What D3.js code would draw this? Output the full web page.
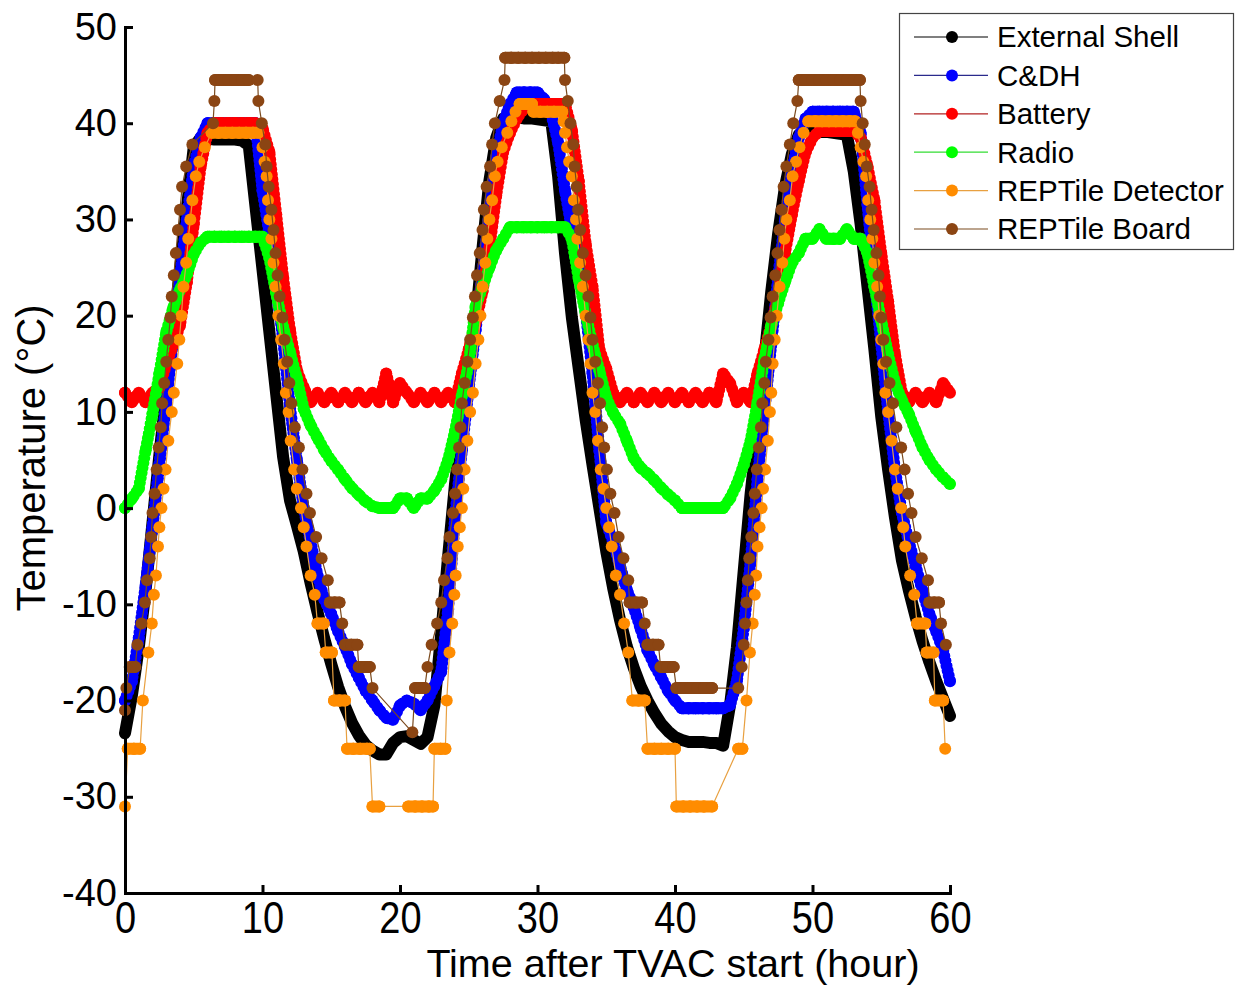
<!DOCTYPE html>
<html>
<head>
<meta charset="utf-8">
<script src="https://cdn.jsdelivr.net/npm/d3@7"></script>
<style>
  body { margin: 0; background: #fff; }
  svg { display: block; font-family: Arial, "Liberation Sans", sans-serif; }
</style>
</head>
<body>
<svg id="chart" width="1239" height="986"></svg>
<script>
// half-hourly grid for the finely logged channels
const hours = d3.range(0, 60.001, 0.5);

const shellTemp = [
  -23.4, -19.5, -14.5, -8.5, -1.5, 5.5, 12, 18.5, 24.8, 31.2,
  37.5, 38.5, 38.4, 38.3, 38.3, 38.3, 38.3, 38.2, 37.7, 31.2,
  24.8, 18.3, 11.8, 5.3, 0.8, -1.8, -4.5, -7.8, -10.8, -13.6,
  -16.2, -18.6, -20.6, -22.3, -23.6, -24.6, -25.2, -25.6, -25.6, -24.4,
  -23.8, -23.7, -24.1, -24.5, -23.8, -20.5, -13, -5, 2.5, 8.5,
  13.5, 19.5, 27, 34, 38.5, 40.5, 40.7, 40.6, 40.5, 40.5,
  40.4, 40.3, 40.2, 34.5, 26.5, 19.8, 14.5, 9.2, 4.5, 0,
  -4.5, -8.3, -11.6, -14.4, -16.6, -18.5, -20, -21.3, -22.4, -23.2,
  -23.8, -24.1, -24.3, -24.3, -24.3, -24.4, -24.4, -24.7, -20.5, -14.5,
  -6.5, 1.5, 8, 15.5, 22.5, 28.5, 33.4, 36.8, 38.8, 39.3,
  39.2, 39.1, 39.1, 39, 38.9, 38.8, 35, 29.5, 23, 16.5,
  9.5, 4, -1, -5.4, -8.5, -11.3, -13.8, -16, -18, -19.8,
  -21.6
];

const cdhTemp = [
  -20, -18, -13.5, -8, -2, 4.5, 11, 17.5, 24, 30,
  35.5, 38.5, 40, 40, 40, 40, 40, 40, 40, 40,
  33, 28.5, 23, 17.5, 10.5, 5, 0, -3.5, -7, -9.5,
  -11, -12.8, -14.4, -16.2, -17.6, -19, -20, -21, -21.8, -22,
  -20.5, -20, -20.3, -21, -20, -18.5, -17, -10.5, -1, 6,
  12.5, 18.5, 24.5, 31, 36.5, 40, 42, 43.2, 43.2, 43.2,
  43.2, 42.5, 41, 38, 33, 29, 25, 20.5, 14, 6,
  -1.5, -3.5, -6, -8.5, -10.3, -12.5, -14.8, -16.3, -17.6, -19,
  -20, -20.8, -20.8, -20.8, -20.8, -20.8, -20.8, -20.8, -20.5, -18,
  -12.5, -5.5, 3, 10, 17, 24, 30, 35, 38.5, 40.5,
  41.2, 41.2, 41.2, 41.2, 41.2, 41.2, 41.2, 39, 31.5, 24,
  17, 10, 4, -0.5, -3.5, -6, -8.6, -11, -12.8, -14.8,
  -18
];

const batteryTemp = [
  12, 11, 12, 11, 12, 12.5, 15, 17, 19, 23.5,
  29.5, 35.5, 39, 40, 40, 40, 40, 40, 40, 40,
  39.5, 37, 30.5, 24, 18.5, 14.3, 12.5, 11, 12, 11,
  12, 11, 12, 11, 12, 11, 12, 11, 14, 11,
  13, 12, 11, 12, 11, 12, 11, 12, 11, 14,
  16.5, 19.3, 22.5, 27, 32.5, 37, 39, 40.5, 41.5, 42,
  42, 42, 42, 42, 42, 39.3, 34, 27.5, 23, 16.5,
  14.5, 12, 11, 12, 11, 12, 11, 12, 11, 12,
  11, 12, 11, 12, 11, 12, 11, 14, 13, 11,
  12, 11, 14, 16.5, 19, 22, 26.5, 30.5, 34, 37,
  38.5, 39.2, 39.2, 39.2, 39.2, 39.2, 39.2, 38.5, 35.5, 32,
  26.5, 21.5, 16, 12, 11, 12, 11, 12, 11, 13,
  12
];

const radioTemp = [
  0, 1, 2, 6, 9.8, 14, 18.3, 20.8, 22.7, 24.3,
  26.4, 27.6, 28.2, 28.2, 28.2, 28.2, 28.2, 28.2, 28.2, 28.2,
  28.2, 26, 22.3, 18.8, 16.2, 13.5, 10.3, 8.6, 7.3, 6,
  4.9, 4, 3, 2.1, 1.4, 0.7, 0.2, 0, 0, 0,
  1, 1, 0, 1, 1, 1.8, 3, 5, 8, 11.7,
  15, 21, 23, 25, 26.8, 28, 29.2, 29.2, 29.2, 29.2,
  29.2, 29.2, 29.2, 29.2, 29.2, 28, 23.8, 20.2, 17, 14.3,
  11.5, 9.9, 8.8, 7, 5.2, 4.2, 3.6, 2.9, 2.1, 1.4,
  0.8, 0, 0, 0, 0, 0, 0, 0, 1, 2.5,
  4.5, 7, 11, 15.5, 19, 21.3, 23.5, 25.5, 26.5, 28,
  28, 29, 28, 28, 28, 29, 28, 28, 26.5, 23,
  19.5, 16, 13, 11.2, 9.8, 8, 6.3, 5, 4, 3.2,
  2.5
];

// the REPTile sensors are coarsely quantised, so they keep their own sample times
const detectorHours = [
  0, 0.2, 0.65, 1.1, 1.3, 1.7, 1.95, 2.1, 2.25, 2.4, 2.5, 2.65, 2.8, 2.95, 3.15, 3.4, 3.55, 3.8, 3.95, 4.1,
  4.25, 4.45, 4.6, 4.75, 4.9, 5.15, 5.4, 5.8, 6.3, 6.8, 7.3, 7.8, 8.3, 8.8, 9.3, 9.7,
  10.0, 10.15, 10.3, 10.4, 10.5, 10.65, 10.8, 10.95, 11.15, 11.35, 11.55, 11.7, 11.9, 12.05, 12.3, 12.5, 12.8,
  13.0, 13.2, 13.5, 13.8, 14.0, 14.45, 14.6, 15.05, 15.2, 15.6, 16.0, 16.15, 16.6, 17.1, 17.6, 17.8, 18.0, 18.5,
  20.6, 21.1, 21.6, 22.1, 22.4, 22.5, 22.95, 23.3, 23.4, 23.6, 23.8, 23.95, 24.05, 24.2, 24.35, 24.5, 24.6, 24.7,
  24.9, 25.1, 25.3, 25.5, 25.7, 25.85, 26.0, 26.2, 26.35, 26.5, 26.7, 26.9, 27.1, 27.4, 27.8, 28.1, 28.4, 28.7,
  29.15, 29.6, 29.7, 30.2, 30.7, 31.2, 31.8, 31.9, 32.0, 32.15, 32.3, 32.5, 32.65, 32.8, 32.9, 33.1, 33.3, 33.5,
  33.7, 33.85, 34.0, 34.2, 34.4, 34.6, 34.8, 35.0, 35.2, 35.4, 35.7, 36.0, 36.3, 36.6, 36.9, 37.35, 37.8,
  38.0, 38.5, 39.0, 39.5, 40.0, 40.1, 40.6, 41.1, 41.6, 42.1, 42.7,
  44.6, 44.9, 45.2, 45.45, 45.65, 45.8, 45.9, 46.0, 46.15, 46.3, 46.4, 46.55, 46.75, 46.9, 47.0, 47.1, 47.25,
  47.4, 47.6, 47.8, 47.95, 48.1, 48.35, 48.55, 48.8, 49.05, 49.35, 49.7, 50.2, 50.7, 51.2, 51.7, 52.2, 52.7, 53.1,
  53.3, 53.5, 53.7, 53.9, 54.05, 54.2, 54.35, 54.5, 54.7, 54.85, 55.0, 55.15, 55.3, 55.5, 55.75, 56.0, 56.2,
  56.45, 56.6, 56.75, 57.1, 57.4, 57.6, 58.2, 58.3, 58.8, 58.9, 59.5, 59.65
];
const detectorTemp = [
  -31, -25, -25, -25, -20, -15, -12, -9, -7, -4, -2, 0, 2, 4, 7, 10, 12, 15, 17.5, 20,
  23, 25.5, 28, 30, 32, 34.5, 36, 37.5, 39, 39, 39, 39, 39, 39, 39, 39,
  37.5, 36, 34.5, 32, 30, 28, 25.5, 23, 20, 17.5, 15, 12, 10, 7, 4, 2, 0,
  -2, -4, -7, -9, -12, -12, -15, -15, -20, -20, -20, -25, -25, -25, -25, -25, -31, -31,
  -31, -31, -31, -31, -31, -25, -25, -25, -20, -15, -12, -9, -7, -4, -2, 0, 2, 4,
  7, 10, 12, 15, 17.5, 20, 23, 25.5, 28, 30, 32, 34.5, 36, 37.5, 39, 40.2, 41.2, 42,
  42, 42, 41.2, 41.2, 41.2, 41.2, 41.2, 40.2, 39, 37.5, 36, 34.5, 32, 30, 28, 25.5, 23, 20,
  17.5, 15, 12, 10, 7, 4, 2, 0, -2, -4, -7, -9, -12, -15, -20, -20, -20,
  -25, -25, -25, -25, -25, -31, -31, -31, -31, -31, -31,
  -25, -25, -20, -15, -12, -9, -7, -4, -2, 0, 2, 4, 7, 10, 12, 15, 17.5,
  20, 23, 25.5, 28, 30, 32, 34.5, 36, 37.5, 39, 40.2, 40.2, 40.2, 40.2, 40.2, 40.2, 40.2, 40.2,
  39, 37.5, 36, 34.5, 32, 30, 28, 25.5, 23, 20, 17.5, 15, 12, 10, 7, 4, 2,
  0, -2, -4, -7, -9, -12, -12, -15, -15, -20, -20, -25
];

const boardHours = [
  0, 0.1, 0.35, 0.75, 0.9, 1.2, 1.45, 1.6, 1.8, 1.9, 2.0, 2.15, 2.3, 2.45, 2.6, 2.7, 2.85, 3.0, 3.15, 3.3,
  3.4, 3.55, 3.7, 3.85, 4.0, 4.15, 4.45, 4.9, 6.4, 6.5, 6.55, 7.0, 7.5, 8.0, 8.5, 9.0, 9.65, 9.7, 9.95,
  10.2, 10.3, 10.45, 10.65, 10.8, 10.95, 11.1, 11.25, 11.45, 11.6, 11.8, 11.95, 12.1, 12.35, 12.65, 12.9,
  13.2, 13.45, 13.9, 14.3, 14.75, 14.9, 15.25, 15.6, 15.8, 16.0, 16.45, 16.9, 17.0, 17.4, 17.8, 18.0,
  20.9, 21.1, 21.45, 21.8, 22.0, 22.3, 22.7, 23.0, 23.2, 23.45, 23.6, 23.85, 24.0, 24.15, 24.3, 24.4, 24.5,
  24.7, 24.9, 25.1, 25.3, 25.45, 25.6, 25.8, 26.0, 26.1, 26.3, 26.55, 26.7, 26.9, 27.25, 27.6, 27.65,
  28.1, 28.6, 29.1, 29.6, 30.1, 30.6, 31.1, 31.5, 31.95, 32.0, 32.2, 32.4, 32.6, 32.7, 32.85, 32.95,
  33.1, 33.3, 33.5, 33.7, 33.85, 34.0, 34.2, 34.4, 34.55, 34.7, 34.85, 35.05, 35.3, 35.6, 35.9, 36.25,
  36.6, 36.7, 37.15, 37.6, 37.8, 38.0, 38.4, 38.8, 38.95, 39.45, 39.9, 40.1, 40.6, 41.1, 41.6, 42.1, 42.7,
  44.6, 44.85, 45.0, 45.1, 45.2, 45.3, 45.4, 45.55, 45.7, 45.8, 45.95, 46.1, 46.25, 46.35, 46.5, 46.6,
  46.8, 46.95, 47.1, 47.3, 47.45, 47.6, 47.75, 47.9, 48.1, 48.35, 48.6, 48.9, 49.0, 49.5, 50.0, 50.5,
  51.0, 51.5, 52.0, 52.5, 53.0, 53.45, 53.5, 53.65, 53.8, 53.95, 54.15, 54.3, 54.45, 54.65, 54.8, 54.9,
  55.0, 55.15, 55.35, 55.6, 55.85, 56.1, 56.45, 56.7, 56.95, 57.2, 57.5, 57.95, 58.4, 58.5, 58.85, 59.2,
  59.35, 59.7
];
const boardTemp = [
  -21, -18.7, -16.5, -16.5, -14.2, -12, -9.8, -7.5, -5.2, -3, -0.5, 1.5, 4, 6.3, 8.4, 10.9, 13, 15.2, 17.5, 19.8,
  22, 24.2, 26.5, 28.9, 31, 33.4, 35.5, 37.8, 40, 42.3, 44.5, 44.5, 44.5, 44.5, 44.5, 44.5, 44.5, 42.3, 40,
  37.8, 35.5, 33.4, 31, 28.9, 26.5, 24.2, 22, 19.8, 17.5, 15.2, 13, 10.9, 8.4, 6.3, 4,
  1.5, -0.5, -3, -5.2, -7.5, -9.8, -9.8, -9.8, -12, -14.2, -14.2, -14.2, -16.5, -16.5, -16.5, -18.7,
  -23.3, -18.7, -18.7, -18.7, -16.5, -14.2, -12, -9.8, -7.5, -5.2, -3, -0.5, 1.5, 4, 6.3, 8.4, 10.9,
  13, 15.2, 17.5, 19.8, 22, 24.2, 26.5, 28.9, 31, 33.4, 35.5, 37.8, 40, 42.3, 44.5, 46.8,
  46.8, 46.8, 46.8, 46.8, 46.8, 46.8, 46.8, 46.8, 46.8, 44.5, 42.3, 40, 37.8, 35.5, 33.4, 31,
  28.9, 26.5, 24.2, 22, 19.8, 17.5, 15.2, 13, 10.9, 8.4, 6.3, 4, 1.5, -0.5, -3, -5.2,
  -7.5, -9.8, -9.8, -9.8, -12, -14.2, -14.2, -14.2, -16.5, -16.5, -16.5, -18.7, -18.7, -18.7, -18.7, -18.7, -18.7,
  -18.7, -16.5, -14.2, -12, -9.8, -7.5, -5.2, -3, -0.5, 1.5, 4, 6.3, 8.4, 10.9, 13, 15.2,
  17.5, 19.8, 22, 24.2, 26.5, 28.9, 31, 33.4, 35.5, 37.8, 40, 42.3, 44.5, 44.5, 44.5, 44.5,
  44.5, 44.5, 44.5, 44.5, 44.5, 44.5, 42.3, 40, 37.8, 35.5, 33.4, 31, 28.9, 26.5, 24.2, 22,
  19.8, 17.5, 15.2, 13, 10.9, 8.4, 6.3, 4, 1.5, -0.5, -3, -5.2, -7.5, -9.8, -9.8, -9.8,
  -12, -14.2
];

const seriesNames = ['External Shell', 'C&DH', 'Battery', 'Radio', 'REPTile Detector', 'REPTile Board'];
const markerColors = ['#000000', '#0000ff', '#ff0000', '#00ff00', '#ff8c00', '#8b4513'];
const lineColors = ['#000000', '#2a2a8c', '#b22222', '#33dd33', '#e8a040', '#7b4a1e'];

const xTicks = [0, 10, 20, 30, 40, 50, 60];
const yTicks = [-40, -30, -20, -10, 0, 10, 20, 30, 40, 50];

const R = 6;
const svg = d3.select('#chart');
const x = d3.scaleLinear().domain([0, 60]).range([125, 950]);
const y = d3.scaleLinear().domain([-40, 50]).range([893, 27]);
const line = d3.line().x(d => x(d[0])).y(d => y(d[1]));

const series = [
  { hours: hours, temps: shellTemp, solid: true },
  { hours: hours, temps: cdhTemp, dense: true },
  { hours: hours, temps: batteryTemp, dense: true },
  { hours: hours, temps: radioTemp, dense: true },
  { hours: detectorHours, temps: detectorTemp },
  { hours: boardHours, temps: boardTemp }
].map((s, i) => ({ ...s, name: seriesNames[i], marker: markerColors[i], stroke: lineColors[i] }));

const plot = svg.append('g');

series.forEach(s => {
  const pts = s.hours.map((h, i) => [h, s.temps[i]]);
  const g = plot.append('g');

  if (s.solid) {
    // logged every few seconds: markers merge into one thick trace
    g.append('path')
      .attr('d', line(pts))
      .attr('fill', 'none')
      .attr('stroke', s.marker)
      .attr('stroke-width', 2 * R)
      .attr('stroke-linecap', 'round')
      .attr('stroke-linejoin', 'round');
    return;
  }

  g.append('path')
    .attr('d', line(pts))
    .attr('fill', 'none')
    .attr('stroke', s.stroke)
    .attr('stroke-width', 1.2);

  if (s.dense) {
    g.append('path')
      .attr('d', line(pts))
      .attr('fill', 'none')
      .attr('stroke', s.marker)
      .attr('stroke-width', 2 * R)
      .attr('stroke-linecap', 'round')
      .attr('stroke-dasharray', '0 5');
  }

  // stretches sitting on one quantised value show as a solid bar of markers
  const runs = d3.pairs(pts).filter(([a, b]) => a[1] === b[1] && b[0] - a[0] <= 0.65);
  g.selectAll('line.run')
    .data(runs)
    .join('line')
    .attr('class', 'run')
    .attr('x1', d => x(d[0][0]))
    .attr('y1', d => y(d[0][1]))
    .attr('x2', d => x(d[1][0]))
    .attr('y2', d => y(d[1][1]))
    .attr('stroke', s.marker)
    .attr('stroke-width', 2 * R)
    .attr('stroke-linecap', 'round');

  g.selectAll('circle')
    .data(pts)
    .join('circle')
    .attr('cx', d => x(d[0]))
    .attr('cy', d => y(d[1]))
    .attr('r', R)
    .attr('fill', s.marker);
});

// axes, ticks pointing inwards as in the original figure
const yAxis = d3.axisLeft(y).tickValues(yTicks).tickFormat(d => String(d))
  .tickSizeInner(-8).tickSizeOuter(0).tickPadding(8);
const xAxis = d3.axisBottom(x).tickValues(xTicks).tickFormat(d => String(d))
  .tickSizeInner(-8).tickSizeOuter(0).tickPadding(8);

const gy = svg.append('g').attr('transform', 'translate(125,0)').call(yAxis);
const gx = svg.append('g').attr('transform', 'translate(0,893)').call(xAxis);

[gy, gx].forEach(g => {
  g.select('.domain').attr('stroke-width', 3).attr('stroke-linecap', 'square');
  g.selectAll('.tick line').attr('stroke-width', 3);
  g.selectAll('.tick text')
    .attr('fill', '#000')
    .style('font-family', 'Arial, "Liberation Sans", sans-serif')
    .style('font-size', '38px');
});
// the hour labels are drawn a little taller than wide in the source figure
gx.selectAll('.tick text').attr('transform', 'scale(1,1.15)');

svg.append('text')
  .attr('transform', 'translate(45,458) rotate(-90)')
  .attr('text-anchor', 'middle')
  .style('font-size', '40px')
  .text('Temperature (°C)');

svg.append('text')
  .attr('x', 673)
  .attr('y', 977)
  .attr('text-anchor', 'middle')
  .style('font-size', '39.5px')
  .text('Time after TVAC start (hour)');

// legend
const legend = svg.append('g');
legend.append('rect')
  .attr('x', 899.5).attr('y', 13.5)
  .attr('width', 334).attr('height', 236)
  .attr('fill', '#fff')
  .attr('stroke', '#444')
  .attr('stroke-width', 1.2);

const rows = legend.selectAll('g.row')
  .data(series)
  .join('g')
  .attr('class', 'row')
  .attr('transform', (d, i) => `translate(0,${37 + i * 38.4})`);

rows.append('line')
  .attr('x1', 914).attr('x2', 988)
  .attr('stroke', d => d.stroke)
  .attr('stroke-width', 1.2);
rows.append('circle')
  .attr('cx', 952).attr('r', R)
  .attr('fill', d => d.marker);
rows.append('text')
  .attr('x', 997)
  .attr('dy', '0.35em')
  .style('font-size', '29.5px')
  .text(d => d.name);
</script>
</body>
</html>
